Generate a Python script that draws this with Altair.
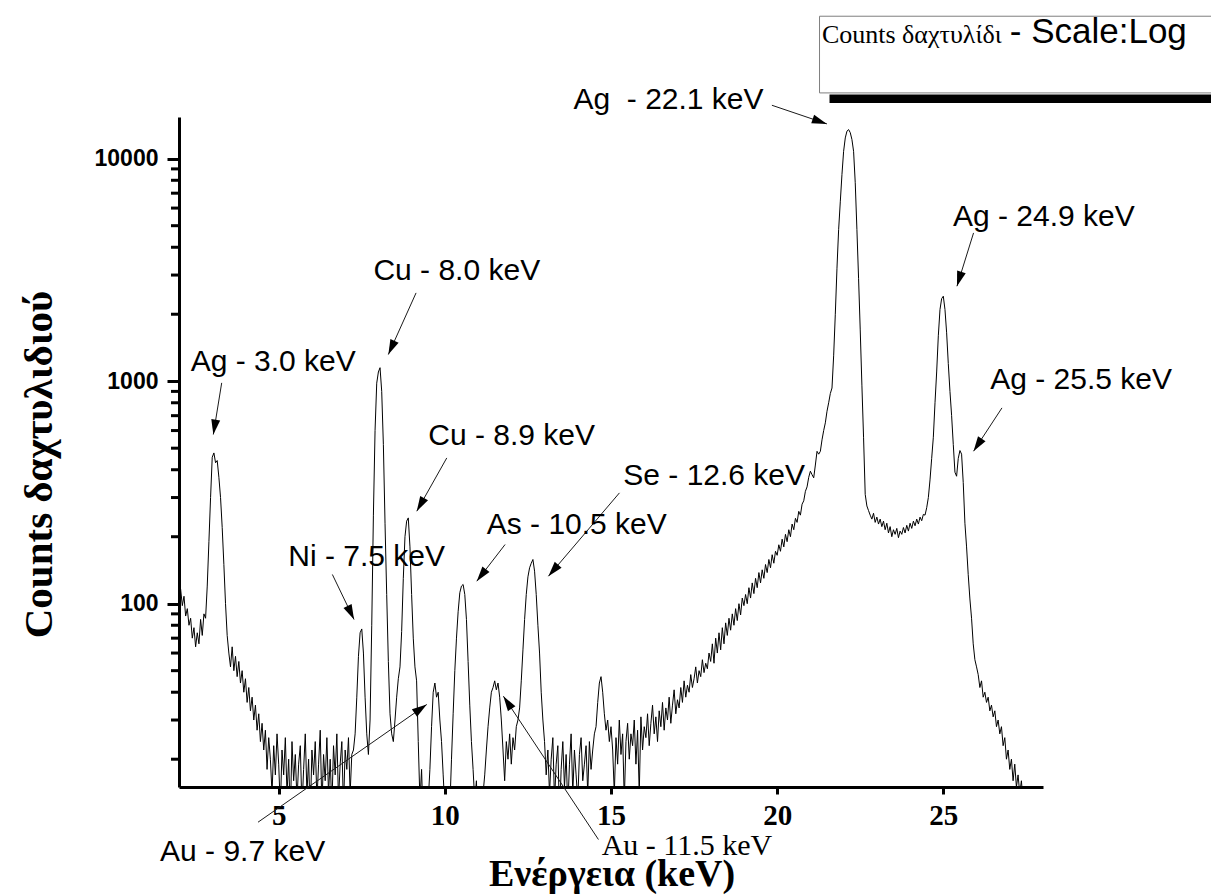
import math
import altair as alt
import pandas as pd

# ---------------- data: counts, one value every 0.05 keV from 2.00 keV
counts = [
    125, 116, 98, 108, 88, 95, 80, 86, 70, 78,          # 2.00
    64, 74, 66, 85, 72, 90, 86, 120, 190, 300,          # 2.50
    455, 476, 430, 440, 370, 300, 220, 150, 100, 72,    # 3.00
    60, 52, 64, 50, 58, 47, 55, 44, 50, 40,             # 3.50
    46, 36, 42, 33, 38, 30, 35, 27, 32, 24,             # 4.00
    29, 22, 27, 18, 25, 20, 14, 23, 17, 26,             # 4.50
    19, 12, 22, 17, 25, 14, 20, 11, 24, 16,             # 5.00
    21, 13, 19, 23, 12, 18, 26, 14, 20, 11,             # 5.50
    22, 17, 24, 13, 19, 27, 12, 21, 16, 25,             # 6.00
    14, 20, 12, 23, 17, 26, 13, 19, 24, 12,             # 6.50
    22, 18, 25, 14, 21, 22, 26, 38, 58, 74,             # 7.00
    77, 60, 38, 26, 21, 30, 80, 250, 600, 980,          # 7.50
    1100, 1150, 900, 520, 230, 110, 55, 32, 26, 24,     # 8.00
    30, 38, 46, 52, 75, 130, 200, 235, 243, 180,        # 8.50
    110, 70, 52, 45, 24, 13, 18, 10, 14, 9,             # 9.00
    13, 18, 28, 40, 44, 38, 40, 30, 24, 17,             # 9.50
    12, 9, 14, 12, 20, 32, 50, 70, 92, 112,             # 10.00
    120, 122, 110, 85, 55, 35, 24, 18, 13, 16,          # 10.50
    10, 12, 9, 14, 17, 22, 28, 34, 40, 42,              # 11.00
    45, 41, 44, 38, 30, 22, 16, 24, 20, 26,             # 11.50
    19, 25, 22, 28, 30, 34, 45, 62, 85, 110,            # 12.00
    132, 145, 152, 158, 140, 110, 80, 60, 40, 30,       # 12.50
    24, 17, 22, 14, 20, 25, 13, 19, 23, 11,             # 13.00
    18, 24, 15, 21, 12, 19, 26, 14, 22, 17,             # 13.50
    13, 21, 25, 16, 19, 23, 14, 24, 18, 22,             # 14.00
    26, 28, 36, 44, 47, 40, 32, 27, 30, 24,             # 14.50
    28, 22, 14, 25, 19, 30, 21, 26, 13, 24,             # 15.00
    29, 20, 26, 23, 30, 19, 27, 14, 31, 22,             # 15.50
    28, 25, 32, 23, 29, 35, 26, 31, 24, 33,             # 16.00
    28, 36, 27, 34, 30, 38, 29, 35, 41, 32,             # 16.50
    37, 34, 42, 36, 45, 38, 43, 40, 48, 42,             # 17.00
    46, 52, 44, 50, 47, 56, 49, 54, 51, 60,             # 17.50
    55, 66, 54, 70, 60, 74, 62, 78, 66, 82,             # 18.00
    72, 86, 76, 90, 80, 95, 84, 100, 89, 106,           # 18.50
    98, 110, 100, 118, 106, 124, 111, 130, 118, 138,    # 19.00
    124, 142, 130, 150, 138, 158, 145, 166, 152, 172,   # 19.50
    165, 184, 172, 195, 180, 205, 190, 215, 200, 228,   # 20.00
    215, 242, 232, 260, 250, 280, 290, 320, 335, 370,   # 20.50
    394, 380, 368, 420, 484, 470, 484, 545, 600, 650,   # 21.00
    733, 800, 880, 932, 1300, 2000, 3220, 4800, 6400, 8500,          # 21.50
    10800, 12400, 13300, 13520, 13100, 12200, 10800, 7800, 4800, 2900,  # 22.00
    1700, 960, 560, 310, 275, 262, 250, 240, 255, 232,  # 22.50
    245, 228, 240, 222, 235, 215, 230, 208, 222, 200,   # 23.00
    215, 205, 218, 198, 212, 205, 220, 208, 225, 212,   # 23.50
    230, 218, 235, 224, 240, 228, 245, 236, 252, 250,   # 24.00
    270, 300, 360, 450, 560, 800, 1100, 1600, 2100, 2350,  # 24.50
    2410, 2100, 1650, 1200, 900, 700, 520, 390, 374, 450,  # 25.00
    488, 470, 350, 230, 180, 135, 105, 86, 66, 56,      # 25.50
    52, 48, 42, 45, 38, 40, 36, 38, 33, 35,             # 26.00
    31, 33, 28, 30, 26, 28, 23, 25, 20, 22,             # 26.50
    18, 20, 16, 19, 15, 17, 14, 16, 13, 15,             # 27.00
    12, 14,                                             # 27.50
]
energy = [round(2.0 + 0.05 * i, 2) for i in range(len(counts))]

x_ticks = [5, 10, 15, 20, 25]
y_major = [100, 1000, 10000]
y_minor = [20, 30, 40, 50, 60, 70, 80, 90,
           200, 300, 400, 500, 600, 700, 800, 900,
           2000, 3000, 4000, 5000, 6000, 7000, 8000, 9000]

# peak labels (sans) : text, anchor energy (keV), anchor counts
lab_text = ["Ag - 3.0 keV", "Cu - 8.0 keV", "Cu - 8.9 keV", "Ni - 7.5 keV",
            "As - 10.5 keV", "Se - 12.6 keV", "Ag\u00a0 - 22.1 keV",
            "Ag - 24.9 keV", "Ag - 25.5 keV", "Au - 9.7 keV"]
lab_e = [2.35, 7.85, 9.50, 5.29, 11.26, 15.37, 13.87, 25.29, 26.41, 1.43]
lab_c = [1110, 2840, 519, 147, 205, 343, 16810, 4970, 918, 6.96]

# serif label
lab2_text = ["Au - 11.5 keV"]
lab2_e = [14.72]
lab2_c = [7.45]

# arrows: start (e, c) -> tip (e, c)
arr_e1 = [3.285, 9.134, 10.058, 6.615, 11.813, 15.254, 19.842, 25.910, 26.765, 4.378, 14.622]
arr_c1 = [983, 2494, 452, 135.3, 184.5, 314.8, 17390, 4640, 758.6, 10.42, 8.71]
arr_e2 = [3.033, 8.300, 9.155, 7.268, 10.961, 13.117, 21.497, 25.411, 25.910, 9.456, 11.762]
arr_c2 = [576, 1318, 260.4, 84.9, 126.2, 132.9, 14340, 2673, 484.6, 35.24, 38.4]

# legend box
legend_serif = "Counts δαχτυλίδι"
legend_sans = "- Scale:Log"

# ---------------- geometry
W, H = 864, 670
x_domain = [2.0, 28.0]
y_domain = [15, 15400]


def px(e):
    return (e - x_domain[0]) / (x_domain[1] - x_domain[0]) * W


def py(c):
    lo, hi = math.log10(y_domain[0]), math.log10(y_domain[1])
    return H * (hi - math.log10(c)) / (hi - lo)


angles = []
for e1, c1, e2, c2 in zip(arr_e1, arr_c1, arr_e2, arr_c2):
    dx = px(e2) - px(e1)
    dy = py(c2) - py(c1)
    angles.append(math.degrees(math.atan2(dx, -dy)) % 360)

spec = pd.DataFrame({"E": energy, "C": counts})
labs = pd.DataFrame({"E": lab_e, "C": lab_c, "t": lab_text})
labs2 = pd.DataFrame({"E": lab2_e, "C": lab2_c, "t": lab2_text})
arrows = pd.DataFrame({"E": arr_e1, "C": arr_c1, "E2": arr_e2, "C2": arr_c2})
heads = pd.DataFrame({"E": arr_e2, "C": arr_c2, "ang": angles})
minors = pd.DataFrame({"C": y_minor})
box = pd.DataFrame({"E": [21.275], "E2": [33.2], "C": [43700], "C2": [19760]})
shadow = pd.DataFrame({"E": [21.576], "E2": [33.2], "C": [19430], "C2": [17820]})
leg1 = pd.DataFrame({"E": [21.347], "C": [33150], "t": [legend_serif]})
leg2 = pd.DataFrame({"E": [27.0], "C": [33150], "t": [legend_sans]})

xscale = alt.Scale(domain=x_domain, nice=False, zero=False)
yscale = alt.Scale(type="log", domain=y_domain, nice=False)

xaxis = alt.Axis(values=x_ticks, title="Ενέργεια (keV)", grid=False,
                 domainColor="black", domainWidth=3, tickColor="black",
                 tickWidth=3, tickSize=7, labelFont="Liberation Serif",
                 labelFontWeight="bold", labelFontSize=29, labelColor="black",
                 labelPadding=7, labelFlush=False,
                 titleFont="Liberation Serif", titleFontWeight="bold",
                 titleFontSize=38, titleColor="black", titleX=432.6, titleY=98,
                 titleBaseline="alphabetic", titleAlign="center")
yaxis = alt.Axis(values=y_major, format="d",
                 title="Counts δαχτυλιδιού",
                 grid=False, domainColor="black", domainWidth=3,
                 tickColor="black", tickWidth=3, tickSize=12,
                 labelFont="Liberation Sans", labelFontWeight="bold",
                 labelFontSize=23, labelColor="black", labelPadding=9,
                 labelFlush=False, titleFont="Liberation Serif",
                 titleFontWeight="bold", titleFontSize=41, titleColor="black",
                 titleAngle=270, titleX=-128, titleY=347,
                 titleBaseline="alphabetic", titleAlign="center")


def X():
    return alt.X("E:Q", scale=xscale, axis=xaxis)


def Y():
    return alt.Y("C:Q", scale=yscale, axis=yaxis)


line = alt.Chart(spec).mark_line(color="black", strokeWidth=1, clip=True).encode(
    x=X(), y=Y())

# minor ticks of the log axis, pointing outward from the axis line
minor_l = alt.Chart(minors).mark_rule(color="black", strokeWidth=3).encode(
    x=alt.value(-8), x2=alt.value(0), y=Y())

rules = alt.Chart(arrows).mark_rule(color="#1a1a1a", strokeWidth=1).encode(
    x=X(), y=Y(), x2=alt.X2("E2"), y2=alt.Y2("C2"))

heads_l = alt.Chart(heads).mark_point(
    shape="M0,0L-0.3,1L0.3,1Z", filled=True, size=900, color="black", opacity=1
).encode(x=X(), y=Y(), angle=alt.Angle("ang:Q", scale=None))

texts = alt.Chart(labs).mark_text(
    align="left", baseline="alphabetic", font="Liberation Sans", fontSize=30,
    color="black").encode(x=X(), y=Y(), text="t:N")

texts2 = alt.Chart(labs2).mark_text(
    align="left", baseline="alphabetic", font="Liberation Serif", fontSize=30,
    color="black").encode(x=X(), y=Y(), text="t:N")

shadow_l = alt.Chart(shadow).mark_rect(color="black").encode(
    x=X(), y=Y(), x2=alt.X2("E2"), y2=alt.Y2("C2"))
box_l = alt.Chart(box).mark_rect(fill="white", stroke="#7f7f7f", strokeWidth=1).encode(
    x=X(), y=Y(), x2=alt.X2("E2"), y2=alt.Y2("C2"))
leg1_l = alt.Chart(leg1).mark_text(
    align="left", baseline="alphabetic", font="Liberation Serif", fontSize=26,
    color="black").encode(x=X(), y=Y(), text="t:N")
leg2_l = alt.Chart(leg2).mark_text(
    align="left", baseline="alphabetic", font="Liberation Sans", fontSize=35,
    color="black").encode(x=X(), y=Y(), text="t:N")

chart = alt.layer(
    line, minor_l, rules, heads_l, texts, texts2,
    shadow_l, box_l, leg1_l, leg2_l
).properties(
    width=W, height=H,
    padding={"left": 179, "top": 117, "right": 168, "bottom": 109},
    autosize=alt.AutoSizeParams(type="none"),
    background="white",
).configure_view(stroke=None)

chart.save("out.html", embed_options={"renderer": "svg", "actions": False})
